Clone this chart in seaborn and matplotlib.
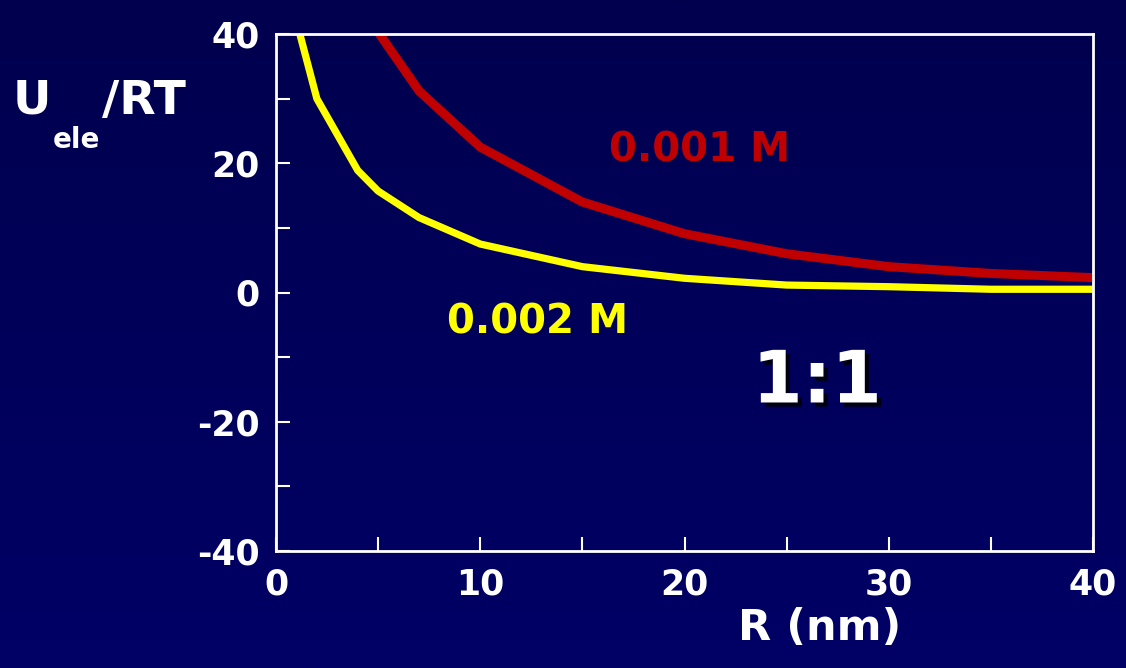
import numpy as np
import pandas as pd
import matplotlib
matplotlib.use("Agg")
import matplotlib.pyplot as plt
import matplotlib.patheffects as pe
from matplotlib.ticker import MultipleLocator
from matplotlib.colors import LinearSegmentedColormap
import seaborn as sns

# ---- data ----
R_002 = [1, 2, 4, 5, 7, 10, 15, 20, 25, 30, 35, 40]
U_002 = [42, 30, 18.9, 15.7, 11.6, 7.5, 4.0, 2.2, 1.15, 0.9, 0.5, 0.5]
R_001 = [5, 7, 10, 15, 20, 25, 30, 35, 40]
U_001 = [40.3, 31.2, 22.5, 14.0, 9.1, 6.0, 4.0, 2.95, 2.3]
x_ticks = [0, 10, 20, 30, 40]
y_ticks = [-40, -20, 0, 20, 40]
label_001 = "0.001 M"
label_002 = "0.002 M"
ratio_label = "1:1"

df = pd.concat([
    pd.DataFrame({"R": R_002, "U": U_002, "conc": label_002}),
    pd.DataFrame({"R": R_001, "U": U_001, "conc": label_001}),
])

sns.set_theme(style="white")
plt.rcParams["font.family"] = ["DejaVu Sans"]
plt.rcParams["font.weight"] = "bold"
plt.rcParams["axes.unicode_minus"] = False

W, H = 1126, 668
fig = plt.figure(figsize=(W / 100, H / 100), dpi=100)

# background gradient
bg = fig.add_axes([0, 0, 1, 1], zorder=-10)
grad = np.linspace(0, 1, 256).reshape(-1, 1)
cmap = LinearSegmentedColormap.from_list("bg", ["#00004e", "#000066"])
bg.imshow(grad, aspect="auto", cmap=cmap, extent=[0, 1, 0, 1], origin="upper")
bg.set_axis_off()

ax = fig.add_axes([276 / W, 1 - 551 / H, (1093 - 276) / W, (551 - 34) / H])
ax.set_facecolor("none")

red = "#c00000"
yellow = "#ffff00"
sns.lineplot(data=df[df.conc == label_002], x="R", y="U", color=yellow,
             linewidth=5.2, ax=ax, legend=False)
sns.lineplot(data=df[df.conc == label_001], x="R", y="U", color=red,
             linewidth=6.5, ax=ax, legend=False)

ax.set_xlim(0, 40)
ax.set_ylim(-40, 40)
ax.set_xticks(x_ticks)
ax.set_yticks(y_ticks)
ax.xaxis.set_minor_locator(MultipleLocator(5))
ax.yaxis.set_minor_locator(MultipleLocator(10))
for s in ax.spines.values():
    s.set_color("white")
    s.set_linewidth(2)
    s.set_visible(True)
ax.tick_params(axis="both", which="both", direction="in", color="white",
               length=10, width=1.5, labelcolor="white", labelsize=25)
ax.tick_params(axis="x", which="major", pad=12)
ax.tick_params(axis="y", which="major", pad=12)
ax.tick_params(top=False, right=False, which="both")
ax.tick_params(bottom=True, left=True, which="both")
for t in ax.get_xticklabels() + ax.get_yticklabels():
    t.set_fontweight("bold")
ax.set_xlabel("")
ax.set_ylabel("")

# annotations
ax.text(20.76, 22.0, label_001, color=red, fontsize=29, fontweight="bold",
        ha="center", va="center")
ax.text(12.8, -4.6, label_002, color=yellow, fontsize=29, fontweight="bold",
        ha="center", va="center")
ax.text(26.5, -14.0, ratio_label, color="white", fontsize=52, fontweight="bold",
        ha="center", va="center",
        path_effects=[pe.withSimplePatchShadow(offset=(3, -3), shadow_rgbFace="black", alpha=0.8)])

# axis labels
fig.text(820 / W, 1 - 628 / H, "R (nm)", color="white", fontsize=31,
         fontweight="bold", ha="center", va="center")
fig.text(13 / W, 1 - 101 / H, "U", color="white", fontsize=34,
         fontweight="bold", ha="left", va="center")
fig.text(53 / W, 1 - 140 / H, "ele", color="white", fontsize=20,
         fontweight="bold", ha="left", va="center")
fig.text(102 / W, 1 - 101 / H, "/RT", color="white", fontsize=34,
         fontweight="bold", ha="left", va="center")

fig.savefig("out.png", dpi=100)
